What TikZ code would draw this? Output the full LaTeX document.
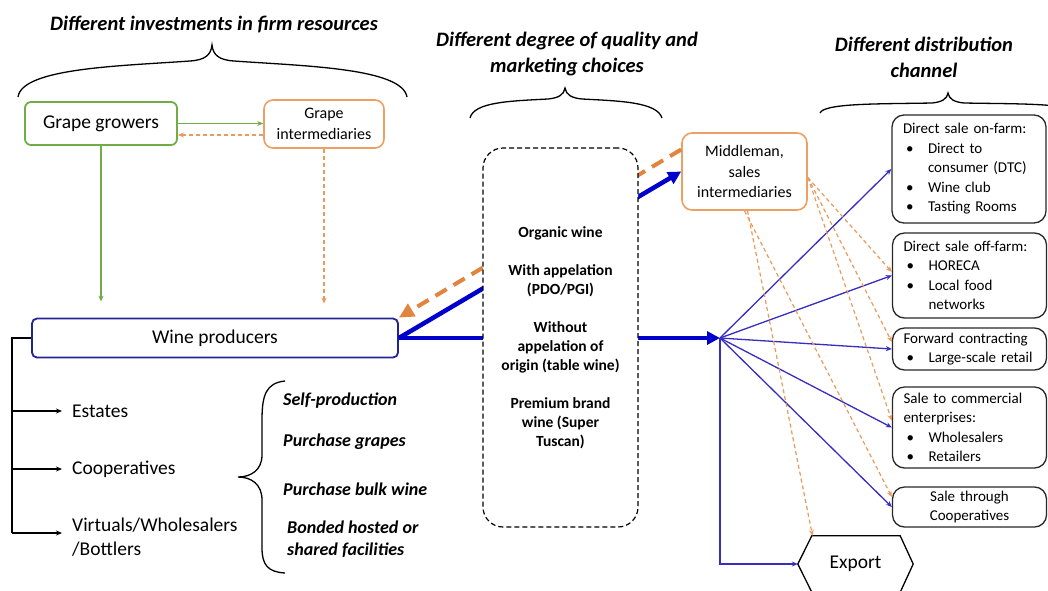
\documentclass[tikz,border=0pt]{standalone}
\usepackage{fontspec}
\setmainfont{Carlito}
\usetikzlibrary{arrows.meta,calc}
\definecolor{ggreen}{RGB}{112,173,71}
\definecolor{gorange}{RGB}{238,160,100}
\definecolor{dorange}{RGB}{226,132,62}
\definecolor{lorange}{RGB}{232,155,95}
\definecolor{tblue}{RGB}{0,0,205}
\definecolor{nblue}{RGB}{55,45,190}
\definecolor{wblue}{RGB}{35,35,150}
\definecolor{dgray}{RGB}{40,40,40}
\newcommand{\fs}[2]{\fontsize{#1}{#2}\selectfont}
\newcommand{\bitem}[1]{\makebox[25pt][l]{\hspace{3pt}\textbullet}#1}
\begin{document}
\begin{tikzpicture}[x=1pt,y=-1pt,
  title/.style={font=\fs{20.5}{26}\bfseries\itshape, align=center, inner sep=0pt},
  gbox/.style={draw=ggreen, line width=1.8pt, rounded corners=6pt, fill=white, inner sep=0pt},
  obox/.style={draw=gorange, line width=1.6pt, rounded corners=9pt, fill=white, inner sep=0pt, align=center, font=\fs{16}{20.5}},
  rbox/.style={draw=dgray, line width=1.3pt, rounded corners=12pt, minimum width=154pt, inner xsep=11pt, inner ysep=0pt, text width=132pt, align=left, font=\fs{15}{19.5}},
  plain/.style={inner sep=0pt, anchor=west, font=\fs{19.5}{24}, align=left},
  ital/.style={inner sep=0pt, anchor=west, font=\fs{18}{22}\bfseries\itshape, align=left},
  brace/.style={line width=1.3pt, black},
  blk/.style={line width=1.3pt, black},
  blkarrow/.style={blk, -{Stealth[length=6pt,width=5pt]}},
  garrow/.style={line width=1.3pt, ggreen, -{Stealth[length=6pt,width=5pt]}},
  oarrow/.style={line width=1.3pt, lorange, dash pattern=on 4pt off 3pt, -{Stealth[length=6pt,width=5pt]}},
  thickblue/.style={line width=4.5pt, tblue, -{Triangle[length=13pt,width=13pt]}},
  thickorange/.style={line width=4pt, dorange, dash pattern=on 13pt off 8pt, -{Triangle[length=15pt,width=14pt]}},
  thinblue/.style={line width=1.3pt, nblue, -{Stealth[length=6pt,width=5pt]}},
  thinorange/.style={line width=1.2pt, lorange, dash pattern=on 4pt off 3pt, -{Stealth[length=6pt,width=5pt]}}
]
\useasboundingbox (0,0) rectangle (1048,590);
\fill[white] (0,0) rectangle (1048,590);
\clip (0,0) rectangle (1048,590);

% titles
\node[title] (t1) at (214,24) {Different investments in firm resources};
\node[title] (t2) at (567,54) {Different degree of quality and\\marketing choices};
\node[title] (t3) at (924,57) {Different distribution\\channel};

% braces
\draw[brace] (18,97) .. controls (22,68) and (120,66) .. (190,61) .. controls (205,60) and (211,55) .. (212,45) .. controls (213,55) and (219,60) .. (234,61) .. controls (304,66) and (402,68) .. (407,97);
\draw[brace] (470,118) .. controls (474,102) and (510,101) .. (548,99) .. controls (558,98) and (564,95) .. (565,88) .. controls (566,95) and (572,98) .. (582,99) .. controls (620,101) and (657,102) .. (662,118);
\draw[brace] (820,113) .. controls (824,103) and (880,104) .. (932,103) .. controls (942,102) and (947,99) .. (948,93) .. controls (949,99) and (954,102) .. (964,103) .. controls (1016,104) and (1072,103) .. (1076,113);
\draw[brace] (285,381) .. controls (266,383) and (262,395) .. (262,420) -- (262,455) .. controls (262,470) and (251,477) .. (238,477) .. controls (251,477) and (262,484) .. (262,500) -- (262,548) .. controls (262,565) and (268,572) .. (285,573);

% grape level
\node[gbox, minimum width=152pt, minimum height=43pt, font=\fs{19.5}{24}] (gg) at (101,123.5) {Grape growers};
\node[obox, minimum width=120pt, minimum height=48pt] (gi) at (324,124) {Grape\\intermediaries};
\draw[garrow] (gg.east) -- (gi.west |- gg.east);
\draw[oarrow] ([yshift=-11pt]gi.west) -- ([yshift=-11pt]gi.west -| gg.east);

% wine producers
\node[draw=wblue, line width=1.8pt, rounded corners=5pt, fill=white, minimum width=366pt, minimum height=39pt, inner sep=0pt, font=\fs{19.5}{24}] (wp) at (215,338) {Wine producers};
\draw[garrow, shorten >=16pt] (gg.south) -- (gg.south |- wp.north);
\draw[oarrow, shorten >=14pt] (gi.south) -- (gi.south |- wp.north);

% producer types
\node[plain] (est) at (72,411) {Estates};
\node[plain] (coo) at (72,469) {Cooperatives};
\node[plain] (vir) at (72,537) {Virtuals/Wholesalers\\/Bottlers};
\coordinate (lb) at (12,338);
\coordinate (lb2) at (12,533);
\draw[blk] (wp.west) -- (lb) -- (lb2);
\draw[blkarrow] (lb |- est.west) -- ([xshift=-10pt]est.west);
\draw[blkarrow] (lb |- coo.west) -- ([xshift=-10pt]coo.west);
\draw[blkarrow] (lb2) -- ([xshift=-10pt,yshift=4pt]vir.west);

% sourcing choices
\node[ital] (sp) at (283,401) {Self-production};
\node[ital] (pg) at (283,442) {Purchase grapes};
\node[ital] (pb) at (283,489) {Purchase bulk wine};
\node[ital] (bh) at (287,539) {Bonded hosted or\\shared facilities};

% middleman
\node[obox, minimum width=125pt, minimum height=77pt, rounded corners=10pt] (mm) at (744.5,171.5) {Middleman,\\sales\\intermediaries};
\coordinate (hub) at (720,338);

% thick connectors (drawn behind the quality box)
\draw[thickblue] (wp.east) -- (hub);
\draw[thickblue] (wp.east) -- (mm.west);
\draw[thickorange] ([yshift=22pt]mm.west) -- (wp.north east);

% quality box
\node[draw=black, line width=1.2pt, dash pattern=on 5pt off 3pt, rounded corners=20pt, fill=white, minimum width=155pt, minimum height=379pt, inner sep=0pt, align=center, font=\fs{15.5}{19}\bfseries] (qual) at (560.5,337.5)
 {Organic wine\\[19pt]With appelation\\(PDO/PGI)\\[19pt]Without\\appelation of\\origin (table wine)\\[19pt]Premium brand\\wine (Super\\Tuscan)};

% distribution channels
\node[rbox, minimum height=108pt] (b1) at (969,169) {Direct sale on-farm:\\\bitem{Direct to}\\\hspace*{25pt}consumer (DTC)\\\bitem{Wine club}\\\bitem{Tasting Rooms}};
\node[rbox, minimum height=85pt] (b2) at (969.5,275.5) {Direct sale off-farm:\\\bitem{HORECA}\\\bitem{Local food}\\\hspace*{25pt}networks};
\node[rbox, minimum height=42pt] (b3) at (969.5,349) {Forward contracting\\\bitem{Large-scale retail}};
\node[rbox, minimum height=81pt] (b4) at (969.5,427.5) {Sale to commercial\\enterprises:\\\bitem{Wholesalers}\\\bitem{Retailers}};
\node[rbox, minimum height=40pt, align=center] (b5) at (969.5,507) {Sale through\\Cooperatives};

% export
\node[inner sep=0pt, minimum width=115pt, minimum height=56pt, font=\fs{19.5}{24}] (exp) at (855.5,564) {Export};
\draw[blk] (exp.west) -- ([xshift=14pt]exp.north west) -- ([xshift=-13pt]exp.north east) -- (exp.east) -- ([xshift=-13pt]exp.south east) -- ([xshift=14pt]exp.south west) -- cycle;

% thin blue arrows from hub
\draw[thinblue] (hub) -- (b1.west);
\draw[thinblue] (hub) -- (b2.west);
\draw[thinblue] (hub) -- (b3.west);
\draw[thinblue] (hub) -- (b4.west);
\draw[thinblue] (hub) -- (b5.west);
\draw[thinblue] (hub) |- (exp.west);

% thin orange dashed arrows from middleman
\draw[thinorange] ([xshift=3pt]mm.south) -- ([xshift=-43pt]exp.north);
\draw[thinorange] (mm.south) -- ([yshift=10pt]b5.west);
\draw[thinorange] ([yshift=-6pt]mm.east) -- ([yshift=7pt]b4.west);
\draw[thinorange] ([yshift=-6pt]mm.east) -- ([yshift=7pt]b3.west);
\draw[thinorange] ([yshift=-6pt]mm.east) -- ([yshift=3.5pt]b2.west);
\end{tikzpicture}
\end{document}
